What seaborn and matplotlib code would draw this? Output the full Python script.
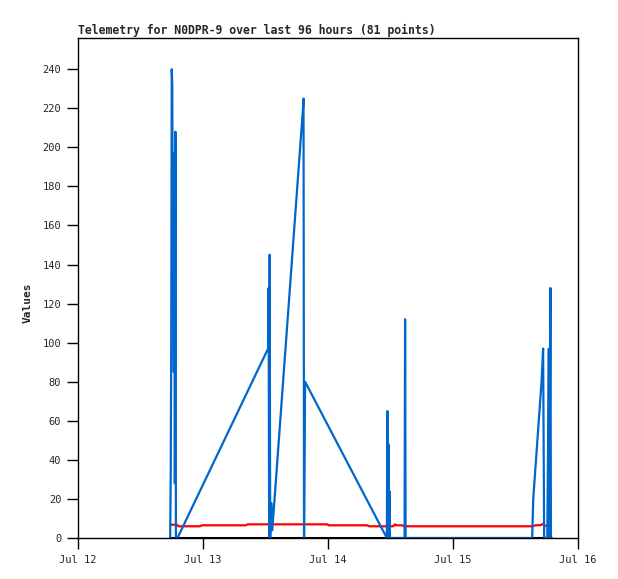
import pandas as pd
import seaborn as sns
import matplotlib.pyplot as plt
import matplotlib.dates as mdates

# hours after Jul 12 00:00 and the telemetry values
blue_hours = [17.7, 17.8, 17.9, 18.0, 18.1, 18.2, 18.3, 18.4, 18.5, 18.6, 18.7, 18.8, 19.1,
              36.5, 36.6, 36.7, 36.8, 36.9, 37.0, 37.1, 37.3,
              43.2, 43.3, 43.4, 43.5, 43.6, 59.3,
              59.4, 59.5, 59.6, 59.7, 59.8, 59.9,
              62.7, 62.8, 62.9,
              64.5, 66.5, 68.5, 70.5, 72.5, 74.5, 76.5, 78.5, 80.5, 82.5, 84.5, 86.5,
              87.2, 87.4, 89.0, 89.3, 89.5, 90.1, 90.2, 90.4, 90.5, 90.7, 90.8]
blue_values = [0, 32, 96, 240, 232, 140, 197, 85, 193, 28, 208, 0, 0,
               97, 128, 0, 145, 0, 10, 18, 4,
               220, 225, 0, 40, 80, 0,
               65, 0, 48, 0, 24, 0,
               0, 112, 0,
               0, 0, 0, 0, 0, 0, 0, 0, 0, 0, 0, 0,
               0, 20, 80, 97, 0, 0, 32, 97, 0, 128, 0]

red_hours = [17.7, 19.0, 19.3, 23.4, 23.8, 32.2, 32.6, 47.8, 48.2, 55.5, 55.9,
             60.5, 60.9, 61.1, 62.2, 62.6, 87.2, 87.9, 88.8, 89.3, 89.6, 90.8]
red_values = [6.8, 6.8, 6.0, 6.0, 6.5, 6.5, 7.0, 7.0, 6.5, 6.5, 6.0,
              6.0, 7.0, 6.5, 6.5, 6.0, 6.0, 6.5, 6.6, 7.2, 6.3, 6.3]

black_hours = [17.7, 90.8]
black_values = [0, 0]

start = pd.Timestamp("2023-07-12")


def to_frame(hours, values):
    return pd.DataFrame({"time": start + pd.to_timedelta(hours, unit="h"), "value": values})


sns.set_style("white")
plt.rcParams["font.family"] = ["DejaVu Sans Mono"]

fig = plt.figure(figsize=(6.18, 5.79), dpi=100)
ax = fig.add_axes([0.1262, 0.0708, 0.8091, 0.8636])

sns.lineplot(data=to_frame(black_hours, black_values), x="time", y="value",
             color="black", linewidth=2.2, estimator=None, ax=ax)
sns.lineplot(data=to_frame(red_hours, red_values), x="time", y="value",
             color="#ff0000", linewidth=1.6, estimator=None, ax=ax)
sns.lineplot(data=to_frame(blue_hours, blue_values), x="time", y="value",
             color="#0066cc", linewidth=1.6, estimator=None, ax=ax)

ax.set_xlim(start, start + pd.Timedelta(days=4))
ax.set_ylim(0, 256)
ax.set_yticks(range(0, 241, 20))
ax.xaxis.set_major_locator(mdates.DayLocator())
ax.xaxis.set_major_formatter(mdates.DateFormatter("%b %d"))

ax.tick_params(axis="both", direction="out", length=8, width=1, color="black",
               labelsize=7.5, left=True, bottom=True)
ax.tick_params(axis="y", pad=4)
ax.tick_params(axis="x", pad=4)
for spine in ax.spines.values():
    spine.set_color("black")
    spine.set_linewidth(1)

ax.set_xlabel("")
ax.set_ylabel("Values", fontsize=8, fontweight="bold", labelpad=12)
ax.yaxis.set_label_coords(-0.09, 0.47)
ax.set_title("Telemetry for N0DPR-9 over last 96 hours (81 points)",
             loc="left", fontsize=8.3, fontweight="bold", pad=3)

fig.savefig("out.png", dpi=100)
